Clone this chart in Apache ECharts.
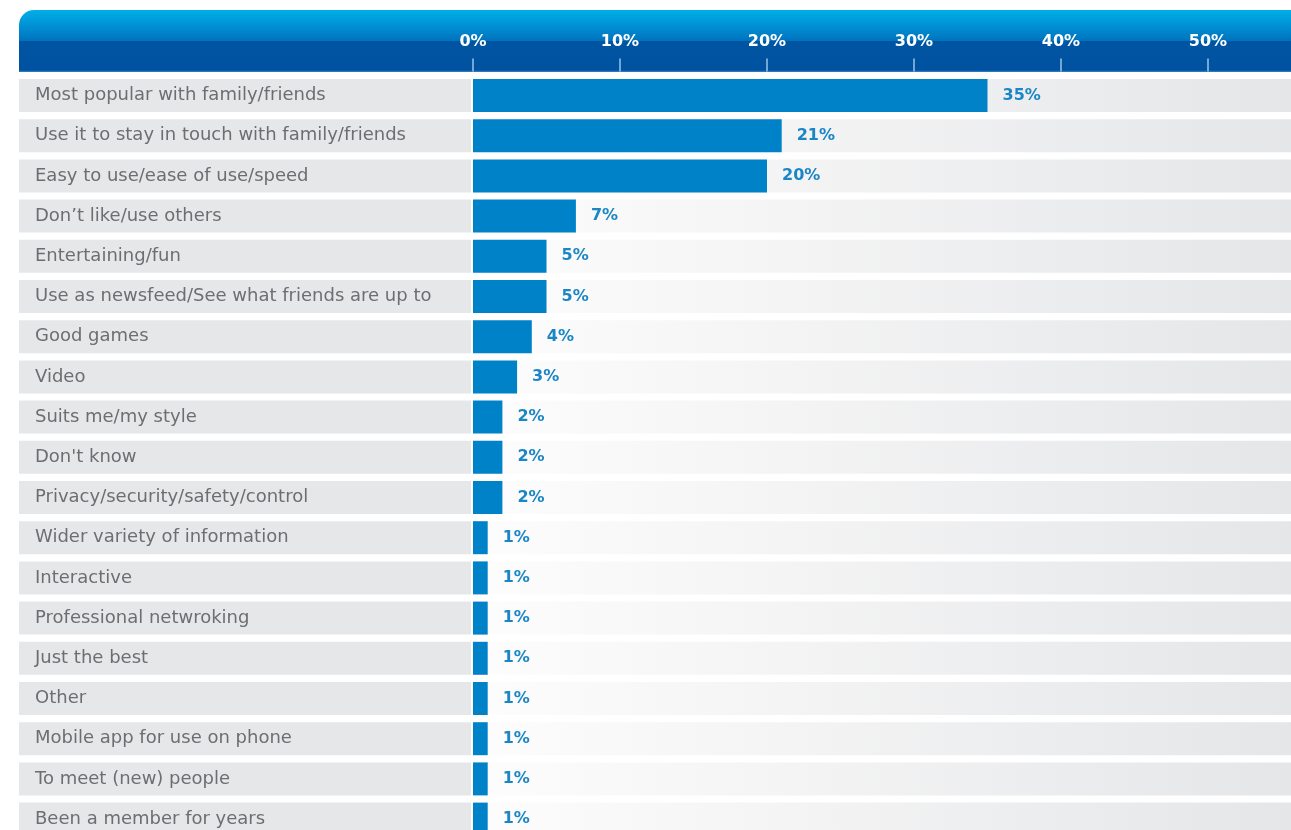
<!DOCTYPE html>
<html>
<head>
<meta charset="utf-8">
<script src="https://cdn.jsdelivr.net/npm/echarts@6/dist/echarts.min.js"></script>
<style>
  html, body { margin: 0; padding: 0; background: #ffffff; overflow: hidden; }
  /* the last row runs past the bottom edge of the window */
  #chart { width: 1291px; height: 842px; }
</style>
</head>
<body>
<div id="chart"></div>
<script>
// Reasons given for preferring the network (share of respondents, %)
const reasons = [
  'Most popular with family/friends',
  'Use it to stay in touch with family/friends',
  'Easy to use/ease of use/speed',
  'Don\u2019t like/use others',
  'Entertaining/fun',
  'Use as newsfeed/See what friends are up to',
  'Good games',
  'Video',
  'Suits me/my style',
  "Don't know",
  'Privacy/security/safety/control',
  'Wider variety of information',
  'Interactive',
  'Professional netwroking',
  'Just the best',
  'Other',
  'Mobile app for use on phone',
  'To meet (new) people',
  'Been a member for years'
];
const shares = [35, 21, 20, 7, 5, 5, 4, 3, 2, 2, 2, 1, 1, 1, 1, 1, 1, 1, 1];
const tickStep = 10;

const FONT = "'DejaVu Sans', Verdana, sans-serif";

const chart = echarts.init(document.getElementById('chart'), null, { renderer: 'canvas' });

const plotLeft = 473;
const plotTop = 75.4;
const rowPitch = 40.2;
const pxPerPoint = 14.7;
const plotWidth = 1291 - plotLeft;

chart.setOption({
  backgroundColor: '#ffffff',
  animation: false,
  graphic: [{
    type: 'rect',
    z: 0,
    silent: true,
    shape: { x: 19, y: 10, width: 1291 - 19, height: 62, r: [15, 0, 0, 0] },
    style: {
      fill: new echarts.graphic.LinearGradient(0, 0, 0, 1, [
        { offset: 0, color: '#00aee8' },
        { offset: 0.2, color: '#0098d8' },
        { offset: 0.5, color: '#0072bd' },
        { offset: 0.5, color: '#0055a3' },
        { offset: 0.97, color: '#0052a0' },
        { offset: 1, color: '#3a86c8' }
      ])
    }
  }],
  grid: {
    left: plotLeft,
    top: plotTop,
    width: plotWidth,
    height: rowPitch * reasons.length,
    containLabel: false
  },
  xAxis: {
    type: 'value',
    position: 'top',
    offset: 4,
    min: 0,
    max: plotWidth / pxPerPoint,
    interval: tickStep,
    axisLine: { show: false },
    axisTick: { show: true, length: 13, lineStyle: { color: '#9cc3e6', width: 1.5 } },
    splitLine: { show: false },
    axisLabel: {
      showMaxLabel: false,
      margin: 22,
      color: '#ffffff',
      fontFamily: FONT,
      fontWeight: 'bold',
      fontSize: 16,
      formatter: v => v + '%'
    },
    z: 5
  },
  yAxis: {
    type: 'category',
    data: reasons,
    inverse: true,
    axisLine: { show: false },
    axisTick: { show: false },
    axisLabel: {
      align: 'left',
      verticalAlign: 'middle',
      margin: plotLeft - 19,
      color: '#6d6e71',
      fontFamily: FONT,
      fontSize: 18,
      backgroundColor: '#e6e7e9',
      width: 452 - 16,
      height: 33,
      lineHeight: 33,
      padding: [0, 0, 0, 16]
    }
  },
  series: [{
    type: 'bar',
    data: shares,
    barWidth: 33,
    itemStyle: { color: '#0082c8' },
    showBackground: true,
    backgroundStyle: {
      color: {
        type: 'linear',
        global: true,
        x: plotLeft, y: 0, x2: 1291, y2: 0,
        colorStops: [
          { offset: 0, color: '#fdfdfd' },
          { offset: 0.12, color: '#fafafa' },
          { offset: 1, color: '#e5e6e8' }
        ]
      }
    },
    label: {
      show: true,
      position: 'right',
      distance: 15,
      color: '#1a86c6',
      fontFamily: FONT,
      fontWeight: 'bold',
      fontSize: 16,
      formatter: p => p.value + '%'
    }
  }]
});
</script>
</body>
</html>
